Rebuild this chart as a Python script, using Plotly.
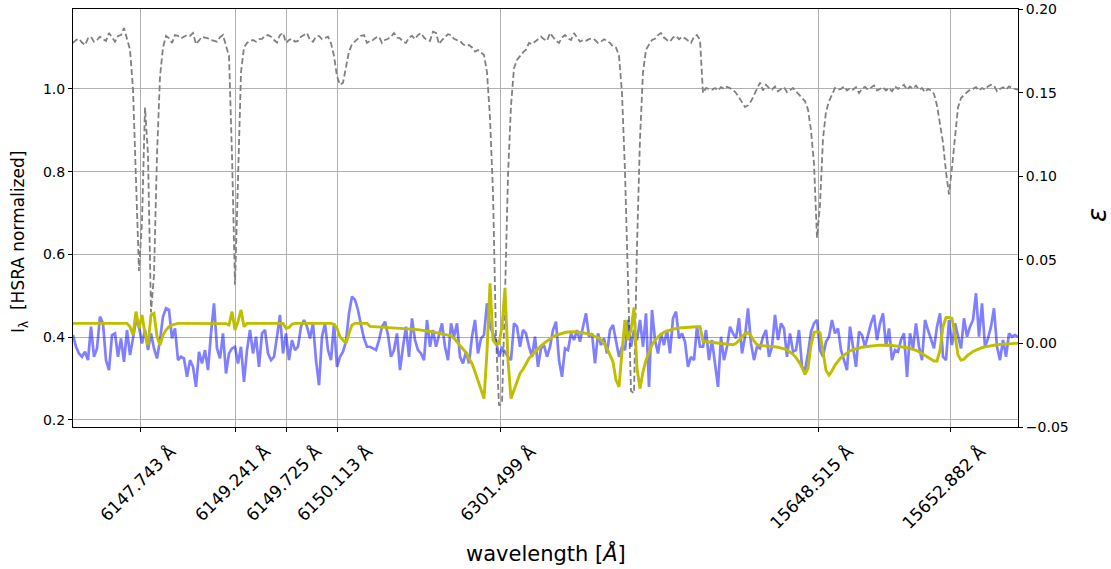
import plotly.graph_objects as go

# Concatenated spectral windows: 6147-6150 Å, 6301-6302 Å, 15648-15652 Å (pixel index axis)
intensity = [
    1.111, 1.118, 1.121, 1.112, 1.106, 1.122, 1.126, 1.114, 1.118, 1.126,
    1.120, 1.116, 1.135, 1.124, 1.114, 1.128, 1.130, 1.147, 1.120, 1.095,
    1.000, 0.750, 0.560, 0.680, 0.955, 0.840, 0.460, 0.550, 0.840, 1.030,
    1.100, 1.128, 1.122, 1.111, 1.130, 1.128, 1.122, 1.126, 1.130, 1.128,
    1.135, 1.108, 1.118, 1.126, 1.124, 1.122, 1.118, 1.116, 1.114, 1.125,
    1.130, 1.104, 1.080, 0.840, 0.527, 0.780, 1.040, 1.100, 1.111, 1.116,
    1.118, 1.114, 1.120, 1.121, 1.128, 1.130, 1.126, 1.118, 1.112, 1.130,
    1.135, 1.111, 1.118, 1.121, 1.114, 1.116, 1.126, 1.130, 1.135, 1.118,
    1.114, 1.126, 1.128, 1.120, 1.124, 1.126, 1.110, 1.080, 1.030, 1.010,
    1.015, 1.050, 1.090, 1.108, 1.114, 1.122, 1.128, 1.130, 1.111,
    # 6301-6302 window
    1.116, 1.118, 1.124, 1.126, 1.111, 1.118, 1.121, 1.126, 1.135, 1.124,
    1.122, 1.114, 1.111, 1.124, 1.128, 1.120, 1.130, 1.135, 1.124, 1.118,
    1.116, 1.138, 1.135, 1.108, 1.118, 1.126, 1.132, 1.130, 1.121, 1.118,
    1.116, 1.108, 1.104, 1.106, 1.100, 1.090, 1.094, 1.088, 1.082, 1.040,
    0.930, 0.750, 0.400, 0.235, 0.240, 0.500, 0.790, 0.960, 1.050, 1.070,
    1.080, 1.088, 1.095, 1.111, 1.108, 1.114, 1.118, 1.126, 1.120, 1.116,
    1.135, 1.126, 1.116, 1.111, 1.124, 1.130, 1.122, 1.118, 1.135, 1.124,
    1.114, 1.118, 1.116, 1.120, 1.122, 1.118, 1.111, 1.114, 1.120, 1.116,
    1.111, 1.102, 1.100, 1.080, 0.990, 0.800, 0.520, 0.270, 0.265, 0.620,
    0.880, 1.040, 1.095, 1.108, 1.118, 1.121, 1.130, 1.135, 1.124, 1.118,
    1.114, 1.124, 1.128, 1.120, 1.126, 1.122, 1.116, 1.111, 1.126, 1.130,
    1.118,
    # 15648-15652 window
    0.990, 1.002, 1.000, 0.998, 1.002, 0.996, 1.004, 1.000, 1.005, 1.002,
    0.998, 0.990, 0.980, 0.968, 0.956, 0.960, 0.970, 0.985, 1.000, 1.015,
    0.996, 1.010, 1.002, 0.998, 1.006, 0.994, 1.000, 1.004, 0.992, 0.998,
    1.002, 0.994, 0.985, 0.978, 0.970, 0.950, 0.900, 0.820, 0.640, 0.720,
    0.880, 0.945, 0.970, 0.985, 1.002, 0.998, 1.000, 1.006, 0.996, 1.002,
    0.998, 1.004, 0.990, 1.000, 1.005, 0.998, 1.002, 1.008, 0.996, 1.000,
    1.004, 0.996, 1.002, 0.994, 1.006, 1.000, 1.004, 1.010, 0.998, 1.006,
    1.000, 1.008, 0.998, 1.002, 0.992, 1.000, 0.996, 0.988, 0.960, 0.920,
    0.870, 0.800, 0.745, 0.810, 0.890, 0.955, 0.978, 0.986, 0.992, 0.998,
    1.000, 1.004, 0.996, 1.002, 0.998, 1.006, 1.010, 1.008, 0.994, 1.000,
    1.004, 0.998, 1.006, 1.002, 1.000, 0.998,
]

eps_obs = [
    0.005, -0.002, -0.006, -0.008, -0.005, -0.010, 0.010, -0.008, -0.003, 0.016,
    0.012, -0.010, -0.016, 0.005, 0.006, -0.008, 0.003, -0.011, 0.008, -0.007,
    0.003, 0.014, 0.010, 0.000, 0.008, -0.004, 0.006, -0.003, -0.009, 0.002,
    0.016, 0.021, 0.020, 0.003, 0.009, -0.010, -0.008, -0.009, -0.020, -0.010,
    -0.014, -0.026, -0.005, -0.012, -0.004, -0.016, 0.006, 0.024, -0.003, -0.009,
    0.006, -0.018, -0.006, -0.003, -0.002, -0.012, -0.002, -0.023, -0.004, 0.008,
    -0.006, 0.004, -0.014, 0.006, 0.008, -0.006, -0.010, -0.008, 0.004, 0.017,
    -0.006, 0.006, -0.010, 0.002, -0.004, -0.002, 0.010, 0.014, 0.010, 0.003,
    0.012, -0.010, -0.025, 0.004, 0.012, -0.004, -0.010, 0.012, -0.014, -0.008,
    -0.005, 0.001, 0.018, 0.028, 0.026, 0.020, 0.011, 0.003, -0.002,
    -0.002, -0.003, -0.004, 0.002, 0.010, 0.013, 0.005, -0.008, -0.004, 0.006,
    -0.016, -0.002, 0.010, -0.008, 0.015, 0.002, -0.004, -0.006, -0.010, 0.014,
    -0.002, 0.008, -0.002, 0.005, 0.012, -0.002, -0.010, 0.012, 0.004, 0.012,
    -0.008, -0.012, -0.005, -0.012, 0.004, 0.014, -0.006, 0.003, 0.005, 0.024,
    0.010, 0.006, 0.002, -0.008, -0.003, -0.005, -0.008, -0.010, 0.012, 0.010,
    -0.002, 0.008, 0.006, -0.002, -0.008, 0.004, -0.014, -0.003, -0.001, -0.008,
    -0.002, 0.008, 0.013, -0.010, -0.020, -0.003, -0.004, 0.006, 0.002, 0.008,
    0.001, 0.010, 0.018, 0.004, 0.006, -0.012, 0.006, -0.001, 0.003, -0.006,
    0.008, 0.011, 0.002, -0.008, -0.002, -0.004, 0.014, -0.002, 0.008, 0.002,
    0.014, -0.002, 0.018, -0.026, 0.020, 0.002, -0.006, 0.006, -0.001, 0.008,
    -0.006, 0.015, 0.019, 0.003, 0.006, 0.001, -0.014, -0.008, -0.010, 0.010,
    -0.002,
    -0.002, 0.008, -0.010, 0.002, -0.014, -0.026, 0.004, -0.010, -0.002, 0.010,
    0.006, 0.003, 0.015, -0.006, 0.004, 0.021, 0.000, -0.010, -0.002, -0.003,
    0.004, 0.008, -0.008, -0.002, 0.017, 0.002, 0.012, 0.009, -0.008, 0.006,
    -0.005, -0.004, 0.008, -0.014, -0.016, -0.006, 0.007, 0.012, 0.014, -0.004,
    -0.008, 0.001, 0.004, 0.014, 0.006, 0.009, -0.004, -0.010, -0.016, 0.010,
    -0.002, -0.014, 0.007, 0.005, -0.002, 0.006, 0.012, 0.017, 0.002, 0.012,
    0.018, -0.002, 0.009, -0.010, -0.004, -0.005, 0.002, 0.006, -0.020, 0.006,
    -0.003, 0.012, -0.002, -0.010, 0.014, 0.008, 0.002, -0.003, 0.010, 0.018,
    -0.008, -0.010, 0.014, -0.001, 0.012, 0.004, -0.003, 0.015, 0.004, 0.010,
    0.014, 0.030, 0.004, 0.024, -0.002, 0.003, 0.010, 0.021, -0.002, -0.010,
    0.002, -0.008, 0.006, 0.004, 0.005, 0.004,
]

eps_fit = [
    0.012, 0.012, 0.012, 0.012, 0.012, 0.012, 0.012, 0.012, 0.012, 0.012,
    0.012, 0.012, 0.012, 0.012, 0.012, 0.012, 0.012, 0.012, 0.012, 0.010,
    0.005, 0.019, 0.009, 0.017, 0.006, -0.001, 0.017, 0.018, 0.004, -0.001,
    0.005, 0.008, 0.010, 0.011, 0.0115, 0.012, 0.012, 0.012, 0.012, 0.012,
    0.012, 0.012, 0.012, 0.012, 0.012, 0.012, 0.012, 0.012, 0.012, 0.012,
    0.012, 0.0118, 0.011, 0.019, 0.008, 0.013, 0.020, 0.010, 0.012, 0.012,
    0.012, 0.012, 0.012, 0.012, 0.012, 0.012, 0.012, 0.012, 0.012, 0.012,
    0.012, 0.009, 0.0095, 0.0115, 0.012, 0.012, 0.012, 0.012, 0.012, 0.012,
    0.012, 0.012, 0.012, 0.012, 0.012, 0.012, 0.012, 0.0115, 0.009, 0.004,
    0.002, 0.000, 0.006, 0.011, 0.012, 0.012, 0.012, 0.012, 0.012,
    0.0102, 0.0101, 0.0100, 0.0099, 0.0098, 0.0097, 0.0096, 0.0095, 0.0094, 0.0093,
    0.0092, 0.0091, 0.0090, 0.0088, 0.0086, 0.0084, 0.0082, 0.0080, 0.0077, 0.0074,
    0.0072, 0.0068, 0.0064, 0.0060, 0.0056, 0.0052, 0.0048, 0.0045, 0.0030, 0.0010,
    -0.0010, -0.0030, -0.0055, -0.0090, -0.0120, -0.0170, -0.0220, -0.0280, -0.0330, -0.0050,
    0.0360, 0.0020, -0.0005, 0.0000, 0.0100, 0.0330, -0.0100, -0.0330, -0.0280, -0.0220,
    -0.0180, -0.0155, -0.0120, -0.0090, -0.0070, -0.0050, -0.0030, -0.0015, 0.0000, 0.0015,
    0.0030, 0.0040, 0.0048, 0.0055, 0.0060, 0.0065, 0.0068, 0.0070, 0.0070, 0.0068,
    0.0066, 0.0064, 0.0060, 0.0055, 0.0050, 0.0040, 0.0035, 0.0020, 0.0000, -0.0030,
    -0.0070, -0.0110, -0.0220, -0.0260, -0.0050, 0.0140, 0.0020, 0.0080, 0.0215, -0.0150,
    -0.0270, -0.0170, -0.0100, -0.0050, -0.0010, 0.0020, 0.0040, 0.0055, 0.0067, 0.0075,
    0.0080, 0.0085, 0.0090, 0.0092, 0.0094, 0.0096, 0.0097, 0.0098, 0.0099, 0.0100,
    0.0100,
    0.0012, 0.0010, 0.0008, 0.0006, 0.0004, 0.0002, 0.0000, -0.0002, -0.0004, -0.0006,
    -0.0008, 0.0000, 0.0020, 0.0040, 0.0058, 0.0065, 0.0045, 0.0015, -0.0008, -0.0012,
    -0.0013, -0.0014, -0.0016, -0.0018, -0.0020, -0.0023, -0.0027, -0.0033, -0.0040, -0.0050,
    -0.0065, -0.0085, -0.0110, -0.0145, -0.0185, -0.0150, -0.0010, 0.0065, 0.0070, 0.0065,
    -0.0040, -0.0160, -0.0190, -0.0165, -0.0130, -0.0105, -0.0085, -0.0070, -0.0055, -0.0045,
    -0.0038, -0.0032, -0.0027, -0.0023, -0.0020, -0.0017, -0.0015, -0.0013, -0.0012, -0.0011,
    -0.0010, -0.0010, -0.0011, -0.0012, -0.0014, -0.0016, -0.0019, -0.0022, -0.0026, -0.0030,
    -0.0035, -0.0042, -0.0050, -0.0060, -0.0070, -0.0080, -0.0095, -0.0105, -0.0105, -0.0040,
    0.0100, 0.0155, 0.0155, 0.0150, 0.0050, -0.0070, -0.0100, -0.0095, -0.0075, -0.0060,
    -0.0048, -0.0040, -0.0032, -0.0026, -0.0021, -0.0017, -0.0013, -0.0010, -0.0008, -0.0006,
    -0.0004, -0.0003, -0.0002, -0.0001, 0.0000, 0.0000,
]

pixel = list(range(len(intensity)))

# Line-centre positions on the pixel axis and their labels
line_pos = [22.6, 54.2, 71.2, 88.2, 142.6, 248.4, 292.5]
line_labels = ["6147.743 Å", "6149.241 Å", "6149.725 Å", "6150.113 Å",
               "6301.499 Å", "15648.515 Å", "15652.882 Å"]

FONT = "DejaVu Sans"

fig = go.Figure()
fig.add_trace(go.Scatter(
    x=pixel, y=intensity, mode="lines", yaxis="y",
    line=dict(color="#808080", width=1.8, dash="6px,3px"),
    showlegend=False, hoverinfo="skip"))
fig.add_trace(go.Scatter(
    x=pixel, y=eps_obs, mode="lines", yaxis="y2",
    line=dict(color="rgba(0,0,255,0.5)", width=2.7),
    showlegend=False, hoverinfo="skip"))
fig.add_trace(go.Scatter(
    x=pixel, y=eps_fit, mode="lines", yaxis="y2",
    line=dict(color="#bfbf00", width=2.9),
    showlegend=False, hoverinfo="skip"))

axis_common = dict(
    showline=True, linecolor="black", linewidth=1.1,
    ticks="outside", ticklen=4, tickwidth=1, tickcolor="black",
    zeroline=False, automargin=False,
)

fig.update_layout(
    width=1111, height=569, autosize=False,
    margin=dict(l=73, r=93, t=9, b=142, pad=0),
    paper_bgcolor="white", plot_bgcolor="white",
    font=dict(family=FONT, color="black"),
    xaxis=dict(
        range=[0, len(intensity) - 1],
        tickmode="array", tickvals=line_pos, ticktext=line_labels,
        tickangle=-45, mirror=True, ticklabelshift=30, ticklabelstandoff=3,
        tickfont=dict(family=FONT, size=17, color="black"),
        showgrid=True, gridcolor="#b0b0b0", gridwidth=1,
        **axis_common,
    ),
    yaxis=dict(
        range=[0.183, 1.193], tickmode="array",
        tickvals=[0.2, 0.4, 0.6, 0.8, 1.0], ticktext=["0.2", "0.4", "0.6", "0.8", "1.0"],
        tickfont=dict(family=FONT, size=14, color="black"),
        showgrid=True, gridcolor="#b0b0b0", gridwidth=1,
        **axis_common,
    ),
    yaxis2=dict(
        overlaying="y", side="right", range=[-0.05, 0.20],
        tickmode="array", tickvals=[-0.05, 0.0, 0.05, 0.10, 0.15, 0.20],
        ticktext=["−0.05", "0.00", "0.05", "0.10", "0.15", "0.20"],
        tickfont=dict(family=FONT, size=14, color="black"),
        showgrid=False,
        **axis_common,
    ),
    annotations=[
        dict(text="wavelength [<i>Å</i>]", xref="paper", yref="paper",
             x=0.5, y=-0.301, xanchor="center", yanchor="middle",
             showarrow=False, font=dict(family=FONT, size=21, color="black")),
        dict(text="I<sub>λ</sub>  [HSRA normalized]", xref="paper", yref="paper",
             x=-0.056, y=0.443, xanchor="center", yanchor="middle", textangle=-90,
             showarrow=False, font=dict(family=FONT, size=17, color="black")),
        dict(text="<i>ε</i>", xref="paper", yref="paper",
             x=1.0836, y=0.507, xanchor="center", yanchor="middle", textangle=-90,
             showarrow=False, font=dict(family=FONT, size=26, color="black")),
    ],
)

fig.write_html("out.html")
